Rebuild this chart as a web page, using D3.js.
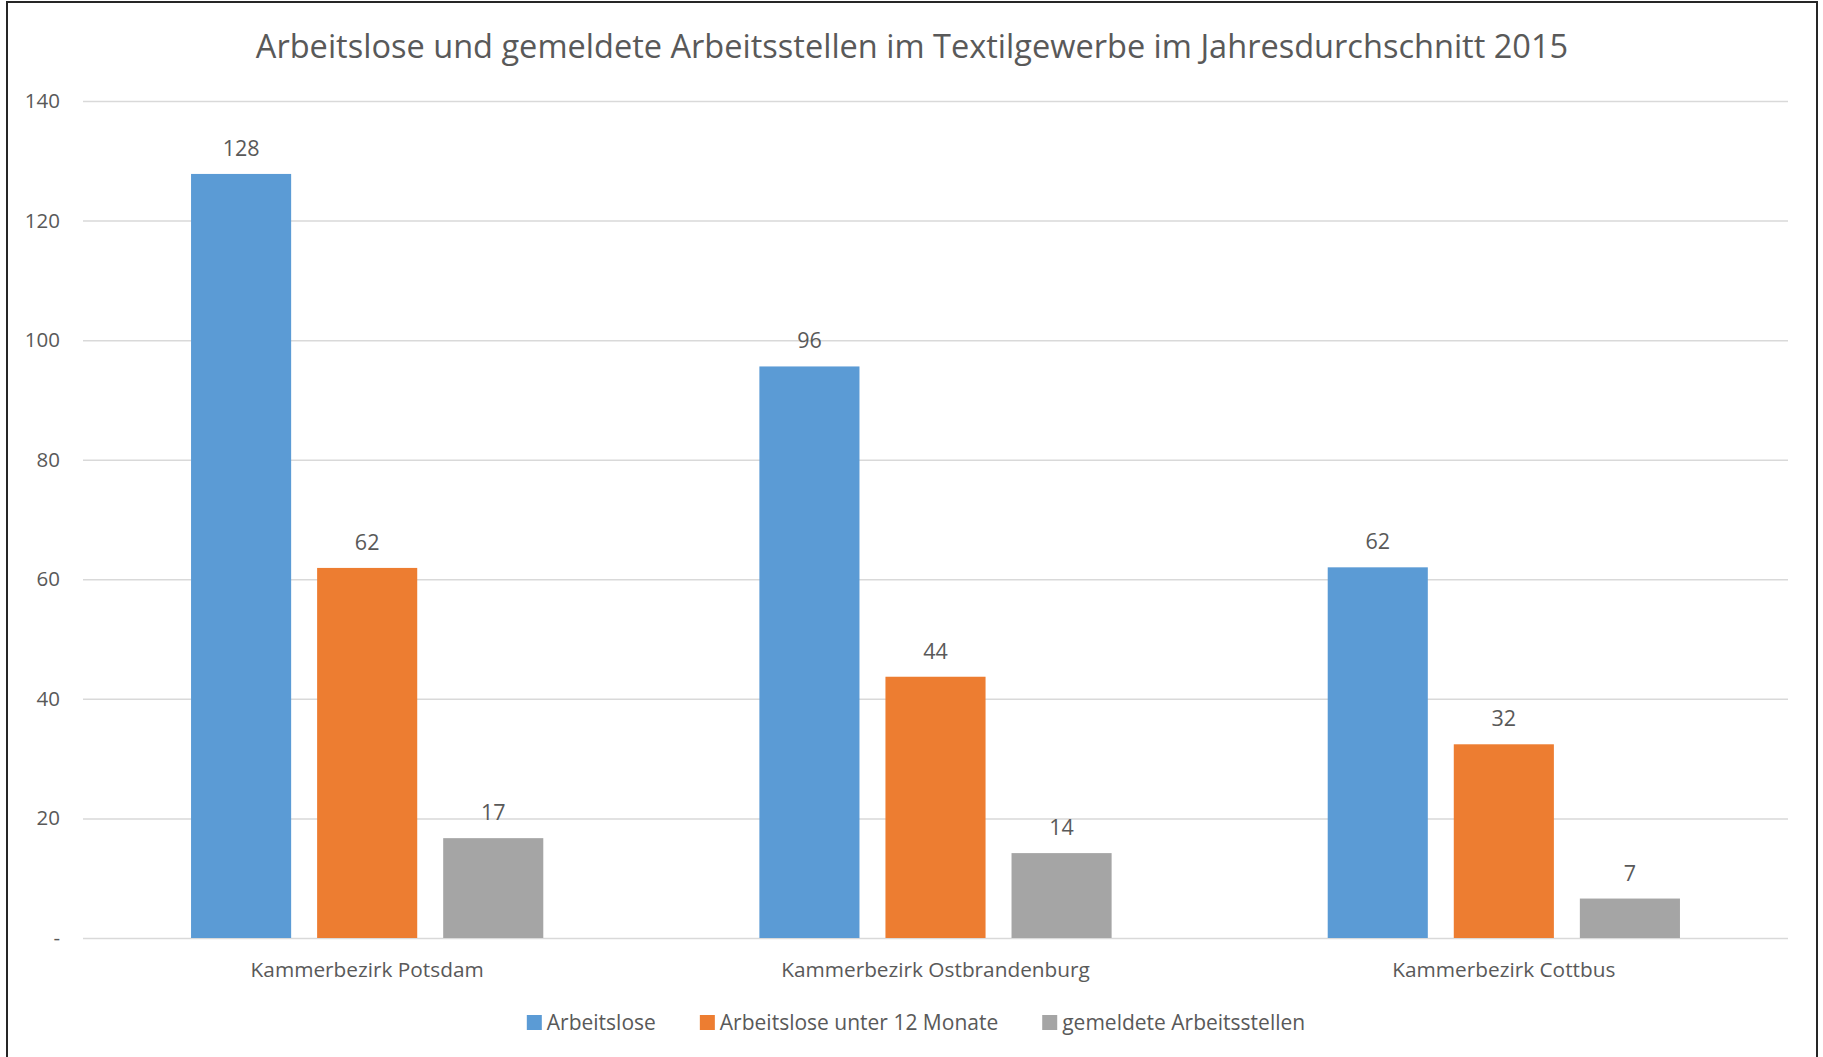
<!DOCTYPE html>
<html>
<head>
  <meta charset="utf-8">
  <title>Arbeitslose Textilgewerbe 2015</title>
  <script src="https://cdn.jsdelivr.net/npm/d3@7/dist/d3.min.js"></script>
  <style>
    html, body { margin: 0; padding: 0; background: #fff; }
    body { font-family: "Open Sans", sans-serif; }
    text { fill: #595959; }
  </style>
</head>
<body>
  <div id="chart"></div>
  <script>
    // data
    const categories = ["Kammerbezirk Potsdam", "Kammerbezirk Ostbrandenburg", "Kammerbezirk Cottbus"];
    const seriesNames = ["Arbeitslose", "Arbeitslose unter 12 Monate", "gemeldete Arbeitsstellen"];
    const arbeitslose = [127.8, 95.6, 62.0];
    const unter12 = [61.9, 43.7, 32.4];
    const stellen = [16.7, 14.2, 6.6];
    const yTicks = [0, 20, 40, 60, 80, 100, 120, 140];
    const colors = ["#5B9BD5", "#ED7D31", "#A5A5A5"];
    const titleText = "Arbeitslose und gemeldete Arbeitsstellen im Textilgewerbe im Jahresdurchschnitt 2015";

    const seriesValues = [arbeitslose, unter12, stellen];

    const width = 1823, height = 1057;
    const plot = { left: 83, right: 1788, top: 101, bottom: 938 };

    const svg = d3.select("#chart").append("svg")
      .attr("width", width)
      .attr("height", height);

    // outer frame
    svg.append("rect")
      .attr("x", 7).attr("y", 2)
      .attr("width", 1810).attr("height", 1100)
      .attr("fill", "none")
      .attr("stroke", "#262626")
      .attr("stroke-width", 2);

    const x0 = d3.scaleBand()
      .domain(categories)
      .range([plot.left, plot.right]);

    const x1 = d3.scaleBand()
      .domain(seriesNames)
      .range([0, x0.bandwidth()])
      .paddingInner(0.206)
      .paddingOuter(0.857);

    const y = d3.scaleLinear()
      .domain([0, 140])
      .range([plot.bottom, plot.top]);

    // gridlines + y labels
    const yAxis = d3.axisLeft(y)
      .tickValues(yTicks)
      .tickSize(-(plot.right - plot.left))
      .tickPadding(23)
      .tickFormat(d => d === 0 ? "-" : d);

    const gy = svg.append("g")
      .attr("transform", `translate(${plot.left},0)`)
      .call(yAxis);
    gy.select(".domain").remove();
    gy.selectAll(".tick line")
      .attr("stroke", "#d9d9d9")
      .attr("stroke-width", 1.5);
    gy.selectAll(".tick text")
      .attr("font-family", "Open Sans, sans-serif")
      .attr("font-size", 20.5)
      .attr("fill", "#595959");

    // bars
    const rows = categories.map((c, i) => seriesNames.map((s, j) => ({ cat: c, series: s, value: seriesValues[j][i], color: colors[j] })));

    const groups = svg.append("g").selectAll("g")
      .data(rows)
      .join("g")
      .attr("transform", (d, i) => `translate(${x0(categories[i])},0)`);

    groups.selectAll("rect")
      .data(d => d)
      .join("rect")
      .attr("x", d => x1(d.series))
      .attr("width", x1.bandwidth())
      .attr("y", d => y(d.value))
      .attr("height", d => y(0) - y(d.value))
      .attr("fill", d => d.color);

    groups.selectAll("text")
      .data(d => d)
      .join("text")
      .attr("x", d => x1(d.series) + x1.bandwidth() / 2)
      .attr("y", d => y(d.value) - 18)
      .attr("text-anchor", "middle")
      .attr("font-size", 21.5)
      .text(d => d3.format(".0f")(d.value));

    // category labels
    const xAxis = d3.axisBottom(x0).tickSize(0).tickPadding(24);
    const gx = svg.append("g")
      .attr("transform", `translate(0,${plot.bottom})`)
      .call(xAxis);
    gx.select(".domain").remove();
    gx.selectAll(".tick text")
      .attr("font-family", "Open Sans, sans-serif")
      .attr("font-size", 20.8)
      .attr("fill", "#595959");

    // title, fitted to the width seen in the picture
    const title = svg.append("text")
      .attr("x", 912)
      .attr("y", 58)
      .attr("text-anchor", "middle")
      .attr("font-size", 30)
      .text(titleText);
    const tw = title.node().getComputedTextLength();
    title.attr("font-size", 30 * 1313 / tw);

    // legend
    const legend = svg.append("g");
    let lx = 0;
    seriesNames.forEach((name, i) => {
      const item = legend.append("g").attr("transform", `translate(${lx},0)`);
      item.append("rect")
        .attr("x", 0).attr("y", -15)
        .attr("width", 15).attr("height", 15)
        .attr("fill", colors[i]);
      const t = item.append("text")
        .attr("x", 20).attr("y", 0)
        .attr("font-size", 21)
        .text(name);
      lx += 20 + t.node().getComputedTextLength() + 44;
    });
    const legendWidth = lx - 44;
    legend.attr("transform", `translate(${916 - legendWidth / 2},1030)`);
  </script>
</body>
</html>
